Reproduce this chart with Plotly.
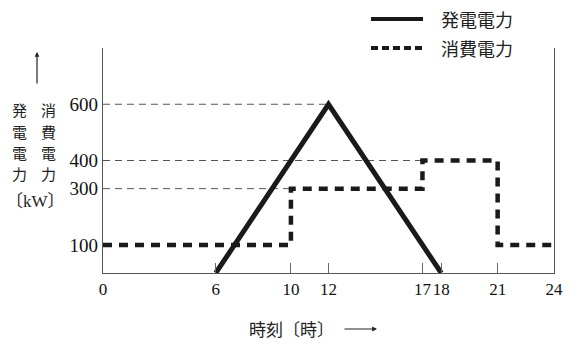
import plotly.graph_objects as go

# Data
gen_x = [6, 12, 18]
gen_y = [0, 600, 0]
cons_x = [0, 10, 10, 17, 17, 21, 21, 24]
cons_y = [100, 100, 300, 300, 400, 400, 100, 100]
guide_y = [600, 400, 300]
guide_x_end = [12, 17, 10]
x_ticks = [0, 6, 10, 12, 17, 18, 21, 24]
y_ticks = [100, 300, 400, 600]
legend_names = ["発電電力", "消費電力"]

W, H = 575, 346
L, R, T, B = 103, 21, 48, 73
pw, ph = W - L - R, H - T - B

def px(x):
    return (x - L) / pw

def py(y):
    return (H - B - y) / ph

serif = "Liberation Serif, DejaVu Serif, serif"
cjk = "Noto Sans CJK JP, sans-serif"

fig = go.Figure()

for gy, gx in zip(guide_y, guide_x_end):
    fig.add_trace(go.Scatter(x=[0, gx], y=[gy, gy], mode="lines",
                             line=dict(color="#555", width=1, dash="7px,5px"),
                             hoverinfo="skip", showlegend=False))

fig.add_trace(go.Scatter(x=cons_x, y=cons_y, mode="lines", name=legend_names[1],
                         line=dict(color="#1a1a1a", width=4.5, dash="9px,7px"),
                         showlegend=False))
fig.add_trace(go.Scatter(x=gen_x, y=gen_y, mode="lines", name=legend_names[0],
                         line=dict(color="#1a1a1a", width=5),
                         showlegend=False))

fig.update_xaxes(range=[0, 24], tickvals=x_ticks, ticktext=[str(v) for v in x_ticks],
                 showgrid=False, zeroline=False, showline=True, linecolor="#555",
                 linewidth=1.2, ticks="inside", ticklen=10, tickcolor="#666",
                 tickwidth=1, tickfont=dict(family=serif, size=17, color="#111"),
                 tickangle=0, automargin=False, mirror=False)
fig.update_yaxes(range=[0, 800], tickvals=y_ticks, ticktext=[str(v) for v in y_ticks],
                 showgrid=False, zeroline=False, showline=True, linecolor="#555",
                 linewidth=1.2, ticks="", tickfont=dict(family=serif, size=19, color="#111"),
                 automargin=False, mirror=True)

shapes = []
annotations = []

# Legend
shapes.append(dict(type="line", xref="paper", yref="paper",
                   x0=px(371), x1=px(423), y0=py(19), y1=py(19),
                   line=dict(color="#1a1a1a", width=4)))
shapes.append(dict(type="line", xref="paper", yref="paper",
                   x0=px(371), x1=px(423), y0=py(48), y1=py(48),
                   line=dict(color="#1a1a1a", width=4, dash="7px,4px")))
for name, yy in zip(legend_names, [19, 48]):
    annotations.append(dict(xref="paper", yref="paper", x=px(439), y=py(yy),
                            text=name, showarrow=False, xanchor="left", yanchor="middle",
                            font=dict(family=cjk, size=18, color="#222")))

# Y-axis vertical label
col1 = "発電電力"
col2 = "消費電力"
rows = [109, 131, 152, 173]
for ch, yy in zip(col1, rows):
    annotations.append(dict(xref="paper", yref="paper", x=px(19), y=py(yy), text=ch,
                            showarrow=False, xanchor="center", yanchor="middle", borderpad=0,
                            font=dict(family=cjk, size=15, color="#222")))
for ch, yy in zip(col2, rows):
    annotations.append(dict(xref="paper", yref="paper", x=px(48), y=py(yy), text=ch,
                            showarrow=False, xanchor="center", yanchor="middle", borderpad=0,
                            font=dict(family=cjk, size=15, color="#222")))
annotations.append(dict(xref="paper", yref="paper", x=px(35), y=py(201), text="〔kW〕",
                        showarrow=False, xanchor="center", yanchor="middle",
                        font=dict(family=serif + ", Noto Sans CJK JP", size=17, color="#222")))
# Up arrow
annotations.append(dict(xref="paper", yref="paper", x=px(37), y=py(52), ax=0, ay=33,
                        text="", showarrow=True, arrowhead=2, arrowsize=0.8,
                        arrowwidth=1.2, arrowcolor="#222"))

# X-axis title
annotations.append(dict(xref="paper", yref="paper", x=px(291), y=py(328), text="時刻〔時〕",
                        showarrow=False, xanchor="center", yanchor="middle",
                        font=dict(family=cjk, size=17, color="#222")))
annotations.append(dict(xref="paper", yref="paper", x=px(377), y=py(329), ax=-34, ay=0,
                        text="", showarrow=True, arrowhead=2, arrowsize=0.8,
                        arrowwidth=1.2, arrowcolor="#222"))

fig.update_layout(width=W, height=H, margin=dict(l=L, r=R, t=T, b=B),
                  plot_bgcolor="white", paper_bgcolor="white",
                  shapes=shapes, annotations=annotations, showlegend=False)

fig.write_html("out.html")
